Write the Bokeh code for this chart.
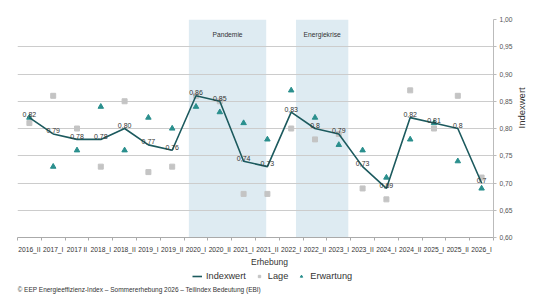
import math
import numpy as np
from bokeh.plotting import figure
from bokeh.layouts import column
from bokeh.models import (Range1d, FixedTicker, CustomJSTickFormatter, BoxAnnotation,
                          Label, Legend, LegendItem)
from bokeh.embed import file_html
from bokeh.resources import INLINE
from bokeh.core.properties import value

# ---------------- data ----------------
categories = ["2016_II", "2017_I", "2017 II", "2018_I", "2018_II", "2019_I", "2019_II",
              "2020_I", "2020_II", "2021_I", "2021_II", "2022_I", "2022_II", "2023_I",
              "2023_II", "2024_I", "2024_II", "2025_I", "2025_II", "2026_I"]
indexwert = [0.82, 0.79, 0.78, 0.78, 0.80, 0.77, 0.76, 0.86, 0.85, 0.74,
             0.73, 0.83, 0.80, 0.79, 0.73, 0.69, 0.82, 0.81, 0.80, 0.70]
index_labels = ["0,82", "0,79", "0,78", "0,78", "0,80", "0,77", "0,76", "0,86", "0,85", "0,74",
                "0,73", "0,83", "0,8", "0,79", "0,73", "0,69", "0,82", "0,81", "0,8", "0,7"]
lage = [0.81, 0.86, 0.80, 0.73, 0.85, 0.72, 0.73, 0.86, 0.85, 0.68,
        0.68, 0.80, 0.78, 0.79, 0.69, 0.67, 0.87, 0.80, 0.86, 0.71]
erwartung = [0.82, 0.73, 0.76, 0.84, 0.76, 0.82, 0.80, 0.84, 0.83, 0.81,
             0.78, 0.87, 0.82, 0.77, 0.76, 0.71, 0.78, 0.81, 0.74, 0.69]
y_ticks = [0.60, 0.65, 0.70, 0.75, 0.80, 0.85, 0.90, 0.95, 1.00]
phase_names = ["Pandemie", "Energiekrise"]
phase_start = [7.2, 11.7]     # in category units
phase_end = [10.45, 13.9]

FONT = "Liberation Sans"
LINE_C = "#1c5a5e"
LAGE_C = "#c4c4c4"
ERW_C = "#2a8f8d"
BL, BR = 17, 47          # shared left / right borders
n = len(categories)
x = np.arange(n) + 0.5

p = figure(width=540, height=255, output_backend="svg", toolbar_location=None,
           x_range=Range1d(0, n), y_range=Range1d(0.6, 1.0),
           y_axis_location="right", title=None,
           min_border_left=BL, min_border_right=BR, min_border_top=19, min_border_bottom=17)
p.outline_line_color = None
p.background_fill_color = "white"
p.border_fill_color = "white"

# shaded phases
for name, s, e in zip(phase_names, phase_start, phase_end):
    p.add_layout(BoxAnnotation(left=s, right=e, fill_color="#deebf2", fill_alpha=1.0,
                               line_color=None, level="image"))
    p.add_layout(Label(x=(s + e) / 2, y=1.0, y_offset=-15, text=name, text_align="center",
                       text_baseline="middle", text_font=FONT, text_font_size="6.7px",
                       text_color="#333333"))

# grid
p.xgrid.visible = False
p.ygrid.grid_line_color = "#cccccc"
p.ygrid.grid_line_width = 1
p.ygrid.level = "underlay"

# y axis (right)
ya = p.yaxis[0]
ya.ticker = FixedTicker(ticks=y_ticks)
ya.formatter = CustomJSTickFormatter(code="return tick.toFixed(2).replace('.', ',');")
ya.axis_line_color = "#bbbbbb"
ya.major_tick_line_color = "#bbbbbb"
ya.major_tick_out = 3
ya.major_tick_in = 0
ya.minor_tick_out = 0
ya.minor_tick_in = 0
ya.major_label_standoff = 3
ya.major_label_text_font = FONT
ya.major_label_text_font_size = "6.7px"
ya.major_label_text_color = "#555555"
ya.axis_label = "Indexwert"
ya.axis_label_text_font = FONT
ya.axis_label_text_font_size = "9.5px"
ya.axis_label_text_font_style = "normal"
ya.axis_label_text_color = "#333333"
ya.axis_label_standoff = 6
if "axis_label_orientation" in ya.properties():
    ya.axis_label_orientation = math.pi / 2

# x axis
xa = p.xaxis[0]
xa.ticker = FixedTicker(ticks=list(x), minor_ticks=list(range(0, n + 1)))
xa.formatter = CustomJSTickFormatter(args=dict(cats=categories),
                                     code="return cats[Math.floor(tick)];")
xa.axis_line_color = "#aaaaaa"
xa.major_tick_out = 0
xa.major_tick_in = 0
xa.minor_tick_out = 3
xa.minor_tick_in = 0
xa.minor_tick_line_color = "#aaaaaa"
xa.major_label_standoff = 5
xa.major_label_text_font = FONT
xa.major_label_text_font_size = "6.7px"
xa.major_label_text_color = "#333333"

# glyphs
p.scatter(x, lage, marker="square", size=5, color=LAGE_C)
p.scatter(x, erwartung, marker="triangle", size=5.5, color=ERW_C)
p.line(x, indexwert, line_color=LINE_C, line_width=1.6)
p.text(x, indexwert, text=index_labels, text_align="center", text_baseline="alphabetic",
       y_offset=-3, text_font=value(FONT), text_font_size="7px", text_color="#333333")

# ---------------- bottom strip: axis title, legend, footer ----------------
# coordinates of this strip are page pixels (x) and pixels below its top edge + 5 (y)
H2 = 49
p2 = figure(width=540, height=H2, output_backend="svg", toolbar_location=None,
            x_range=Range1d(BL, 540 - BR), y_range=Range1d(H2 + 5, 5),
            x_axis_location=None, y_axis_location=None, title=None,
            min_border_left=BL, min_border_right=BR, min_border_top=0, min_border_bottom=0)
p2.outline_line_color = None
p2.xgrid.visible = False
p2.ygrid.visible = False
p2.background_fill_color = "white"
p2.border_fill_color = "white"

p2.add_layout(Label(x=269, y=11.7, text="Erhebung", text_align="center", text_baseline="middle",
                    text_font=FONT, text_font_size="8.5px", text_color="#333333"))

# legend proxies (same series; they fall outside this strip's ranges, so only the legend shows)
l_line = p2.line(x, indexwert, line_color=LINE_C, line_width=1.6)
l_lage = p2.scatter(x, lage, marker="square", size=5, color=LAGE_C)
l_erw = p2.scatter(x, erwartung, marker="triangle", size=5.5, color=ERW_C)
legend = Legend(items=[LegendItem(label="Indexwert", renderers=[l_line]),
                       LegendItem(label="Lage", renderers=[l_lage]),
                       LegendItem(label="Erwartung", renderers=[l_erw])],
                orientation="horizontal", location=(175, 23), margin=0, padding=1,
                spacing=8, glyph_width=10, glyph_height=6, label_standoff=4,
                label_text_font=FONT, label_text_font_size="9.2px", label_text_color="#333333",
                border_line_color=None, background_fill_alpha=0)
p2.add_layout(legend, "center")

p2.add_layout(Label(x=17, y=39,
                    text="© EEP Energieeffizienz-Index – Sommererhebung 2026 – Teilindex Bedeutung (EBI)",
                    text_align="left", text_baseline="middle", text_font=FONT,
                    text_font_size="6.5px", text_color="#333333"))

layout = column(p, p2, spacing=0)
open("out.html", "w").write(file_html(layout, INLINE))
